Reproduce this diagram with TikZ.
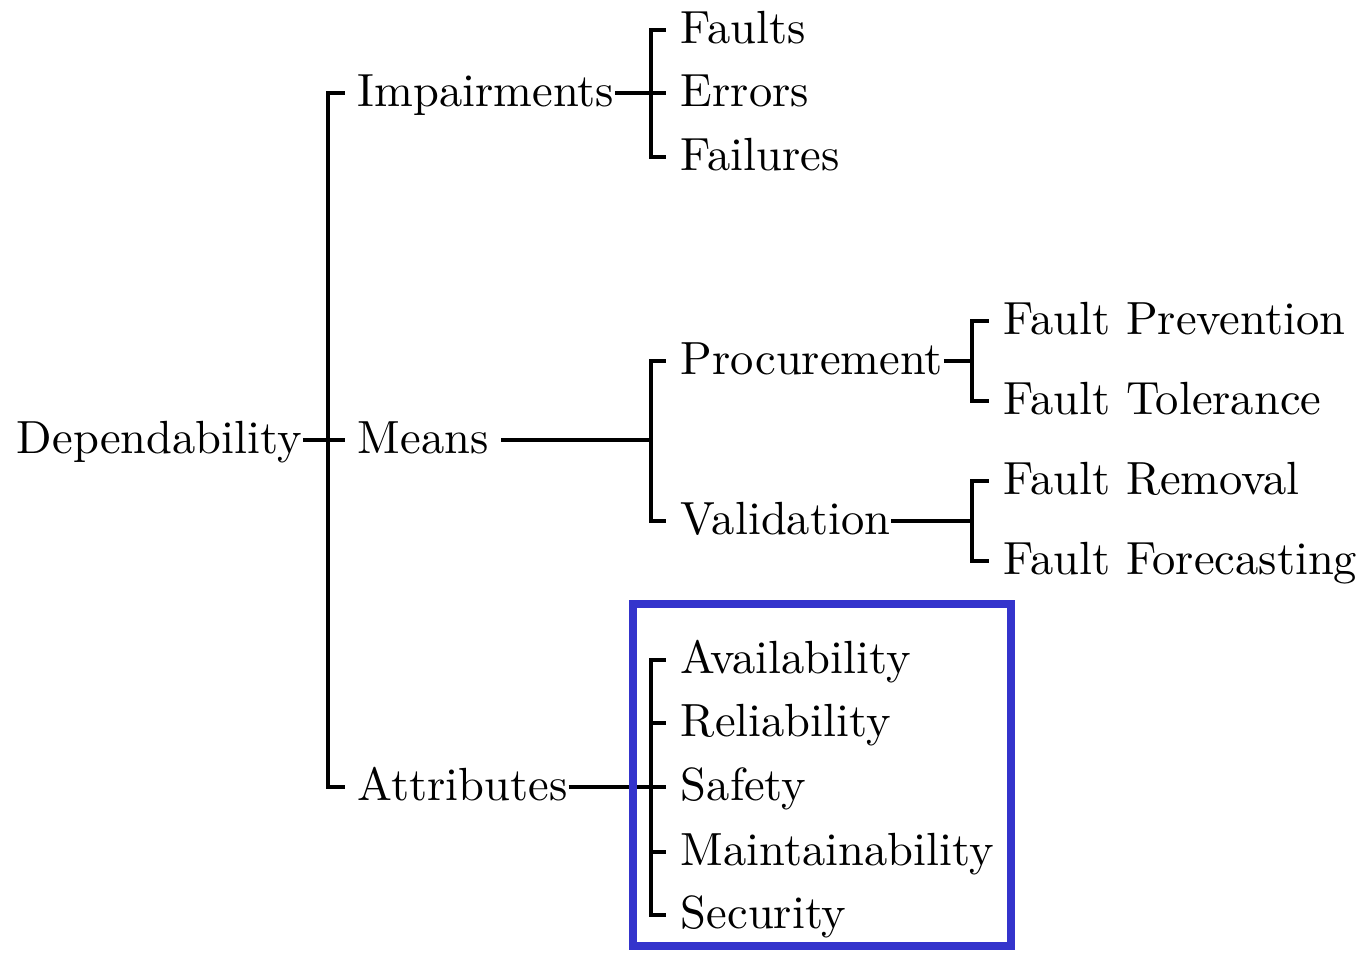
\documentclass[tikz,border=0pt]{standalone}
\definecolor{boxblue}{RGB}{52,52,204}
\begin{document}
\begin{tikzpicture}[x=0.215pt,y=-0.215pt,
  lbl/.style={anchor=west,inner sep=0pt,text height=7.5pt,text depth=1.5pt},
  conn/.style={line width=0.86pt,line join=miter},
  hl/.style={draw=boxblue,line width=1.72pt}]
\useasboundingbox (0,0) rectangle (1365,952);
% nodes
\node[lbl] (dep) at (16,440) {Dependability};
\node[lbl] (imp) at (357,93) {Impairments};
\node[lbl] (means) at (357,440) {Means};
\node[lbl] (attr) at (357,787) {Attributes};
\node[lbl] (faults) at (680,30) {Faults};
\node[lbl] (errors) at (680,93) {Errors};
\node[lbl] (failures) at (680,157) {Failures};
\node[lbl] (proc) at (680,361) {Procurement};
\node[lbl] (valid) at (680,521) {Validation};
\node[lbl] (fp) at (1003,321) {Fault Prevention};
\node[lbl] (ft) at (1003,401) {Fault Tolerance};
\node[lbl] (fr) at (1003,481) {Fault Removal};
\node[lbl] (ff) at (1003,561) {Fault Forecasting};
\node[lbl] (avail) at (680,660) {Availability};
\node[lbl] (rel) at (680,723) {Reliability};
\node[lbl] (safe) at (680,787) {Safety};
\node[lbl] (maint) at (680,852) {Maintainability};
\node[lbl] (sec) at (680,915) {Security};
% junction coordinates
\coordinate (s0) at (328,440);
\coordinate (s1) at (651,93);
\coordinate (s2) at (651,440);
\coordinate (s3) at (972,361);
\coordinate (s4) at (972,521);
\coordinate (s5) at (651,787);
% level 1
\draw[conn] ([xshift=-2.6pt]imp.west) -| (s0) |- ([xshift=-2.6pt]attr.west);
\draw[conn] (dep.east) -- ([xshift=-2.6pt]means.west);
% impairments
\draw[conn] (imp.east) -- (s1);
\draw[conn] ([xshift=-3.1pt]faults.west) -| (s1) |- ([xshift=-3.1pt]failures.west);
\draw[conn] (s1) -- ([xshift=-3.1pt]errors.west);
% means
\draw[conn] ([xshift=2.5pt]means.east) -- (s2);
\draw[conn] ([xshift=-3.1pt]proc.west) -| (s2) |- ([xshift=-3.1pt]valid.west);
\draw[conn] (proc.east) -- (s3);
\draw[conn] ([xshift=-3.1pt]fp.west) -| (s3) |- ([xshift=-3.1pt]ft.west);
\draw[conn] (valid.east) -- (s4);
\draw[conn] ([xshift=-3.1pt]fr.west) -| (s4) |- ([xshift=-3.1pt]ff.west);
% attributes
\draw[conn] (attr.east) -- (s5);
\draw[conn] ([xshift=-3.1pt]avail.west) -| (s5) |- ([xshift=-3.1pt]sec.west);
\draw[conn] (s5) -- ([xshift=-3.1pt]safe.west);
\draw[conn] ([xshift=-3.1pt]rel.west) -- (rel.west -| s5);
\draw[conn] ([xshift=-3.1pt]maint.west) -- (maint.west -| s5);
% highlight box
\draw[hl] (633,604) rectangle (1011,946);
\end{tikzpicture}
\end{document}
